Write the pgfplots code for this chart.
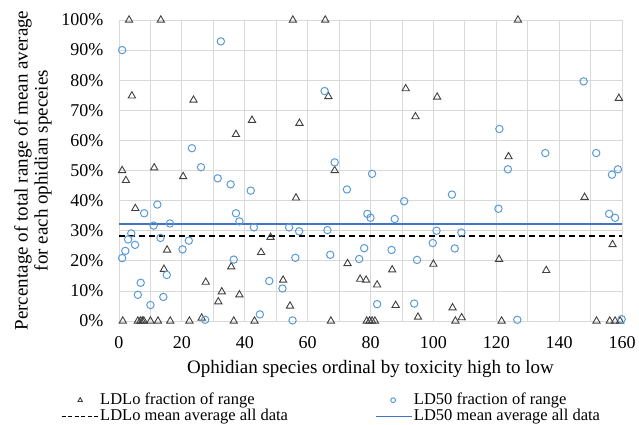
\documentclass[border=0pt]{standalone}
\usepackage{fontspec}
\setmainfont{Liberation Serif}
\usepackage{pgfplots}
\usepackage{pgfplotstable}
\pgfplotsset{compat=1.18}
\definecolor{gridgray}{HTML}{D9D9D9}
\definecolor{ldfifty}{HTML}{5B9BD5}
\definecolor{meanblue}{HTML}{4472C4}
\definecolor{tri}{HTML}{404040}

\pgfplotstableread{
x y
1 50
2.2 46.7
3.2 100
4.1 74.8
5.2 37.4
11.2 50.9
13.3 100
14.3 17.2
15.3 23.6
20.4 48
23.7 73.4
26.3 1
27.6 12.9
31.6 6.4
32.7 9.7
35.7 18
37.2 62
38.3 8.7
42.3 66.7
45.2 22.8
48.2 27.8
52.2 13.6
54.4 5
55.3 100
56.3 40.9
57.4 65.7
65.6 100
66.6 74.6
68.6 50
72.7 19.1
76.7 13.9
78.6 13.6
82.1 12
86.9 17
88 5.2
91.2 77.2
94.3 67.9
95.1 1.3
100 18.9
101.2 74.4
106.1 4.4
109 1.1
120.9 20.5
123.9 54.6
126.9 100
135.9 16.8
148.1 41.1
157 25.4
159 74
1.2 0
6 0
6.8 0
7.4 0
7.9 0
10 0
12.4 0
16.3 0
22.4 0
36.5 0
43.1 0
67.4 0
78.8 0
79.7 0
80.5 0
81.4 0
107 0
121.7 0
151.9 0
156.1 0
157.8 0
159.4 0
}\ldlo

\pgfplotstableread{
x y
1 90
32.4 92.9
23.2 57.4
26.1 51.1
31.4 47.4
35.5 45.4
8 35.8
12.2 38.7
11 31.7
16.2 32.4
37.2 35.8
38.3 33.1
3.9 29.1
2.9 27.1
5.1 25.3
2 23.3
1 20.9
13.2 27.6
22.2 26.7
20.2 23.8
36.5 20.4
15.2 15.3
6.9 12.7
6 8.7
14.1 8
10 5.3
27.4 0.4
65.4 76.4
68.6 52.7
41.9 43.3
72.5 43.7
79 35.6
80 34.3
42.9 31.1
54.1 31.1
57.3 29.8
66.3 30.2
56.1 21
67.2 22
78 24.2
76.4 20.6
47.8 13.3
52 10.8
44.8 2.2
55.2 0.2
80.5 48.9
105.9 42
90.7 39.8
87.7 33.9
120.7 37.3
101 30
108.9 29.4
86.7 23.6
99.8 25.9
106.8 24.1
94.8 20.3
82.1 5.6
93.9 5.8
121 63.8
147.8 79.6
135.6 55.8
151.8 55.8
123.7 50.4
158.7 50.4
156.8 48.6
155.9 35.6
157.8 34.3
126.7 0.4
159.9 0.6
}\ldfiftytab

\begin{document}
\begin{tikzpicture}
\path[use as bounding box] (-119pt,-103pt) rectangle (520pt,321pt);
\begin{axis}[
  scale only axis,
  width=503pt, height=301pt,
  at={(0pt,0pt)}, anchor=south west,
  xmin=0, xmax=160, ymin=0, ymax=100,
  xtick={0,20,...,160},
  minor xtick={10,30,...,150},
  ytick={0,10,...,100},
  xmajorgrids, xminorgrids, ymajorgrids,
  grid style={gridgray, line width=0.8pt},
  minor grid style={gridgray, line width=0.8pt},
  axis line style={gridgray, line width=0.8pt},
  major tick length=0pt, minor tick length=0pt,
  tick style={draw=none},
  clip=false,
  font=\fontsize{18}{21}\selectfont,
  /pgf/number format/assume math mode=true,
  yticklabel={\pgfmathprintnumber{\tick}\%},
  xticklabel style={yshift=-12pt},
  yticklabel style={xshift=-12pt},
  xlabel={Ophidian species ordinal by toxicity high to low},
  xlabel style={font=\fontsize{19}{22}\selectfont, at={(axis description cs:0.5,0)}, anchor=center, yshift=-48pt},
  ylabel={Percentage of total range of mean average\\for each ophidian speceies},
  ylabel style={align=center, font=\fontsize{19}{20}\selectfont, at={(axis description cs:-0.171,0.5)}, anchor=center},
  legend columns=2,
  legend cell align=left,
  legend style={at={(axis description cs:0,0)}, anchor=north west, xshift=-58pt, yshift=-71pt,
    draw=none, fill=none, inner sep=0pt,
    font=\fontsize{16.5}{15}\selectfont, row sep=0pt,
    nodes={inner sep=1pt, text height=11pt, text depth=3pt},
    /tikz/every even column/.append style={column sep=86pt}},
]
\addplot[only marks, mark=triangle, mark size=4.2pt, draw=tri, mark options={line width=0.9pt, draw=tri},
  legend image code/.code={\path[draw=none] (0cm,0cm) -- (1.3cm,0cm); \draw[tri, line width=0.6pt] plot[mark=triangle, mark size=2.6pt] coordinates {(0.65cm,0cm)};}]
  table[x=x,y=y] {\ldlo};
\addlegendentry{LDLo fraction of range}
\addplot[only marks, mark=o, mark size=3.7pt, draw=ldfifty, mark options={line width=1pt, draw=ldfifty},
  legend image code/.code={\path[draw=none] (0cm,0cm) -- (1.3cm,0cm); \draw[ldfifty, line width=0.6pt] plot[mark=o, mark size=2.4pt] coordinates {(0.62cm,0cm)};}]
  table[x=x,y=y] {\ldfiftytab};
\addlegendentry{LD50 fraction of range}
\addplot[draw=black, line width=1.5pt, dash pattern=on 6pt off 4pt, mark=none,
  legend image code/.code={\draw[black, line width=1pt, dash pattern=on 4pt off 2.5pt] (0cm,0cm) -- (1.3cm,0cm);}]
  coordinates {(0,28.2) (160,28.2)};
\addlegendentry{LDLo mean average all data}
\addplot[draw=meanblue, line width=1.5pt, mark=none,
  legend image code/.code={\draw[meanblue, line width=1pt] (0cm,0cm) -- (1.3cm,0cm);}]
  coordinates {(0,32.3) (160,32.3)};
\addlegendentry{LD50 mean average all data}
\end{axis}
\end{tikzpicture}
\end{document}
